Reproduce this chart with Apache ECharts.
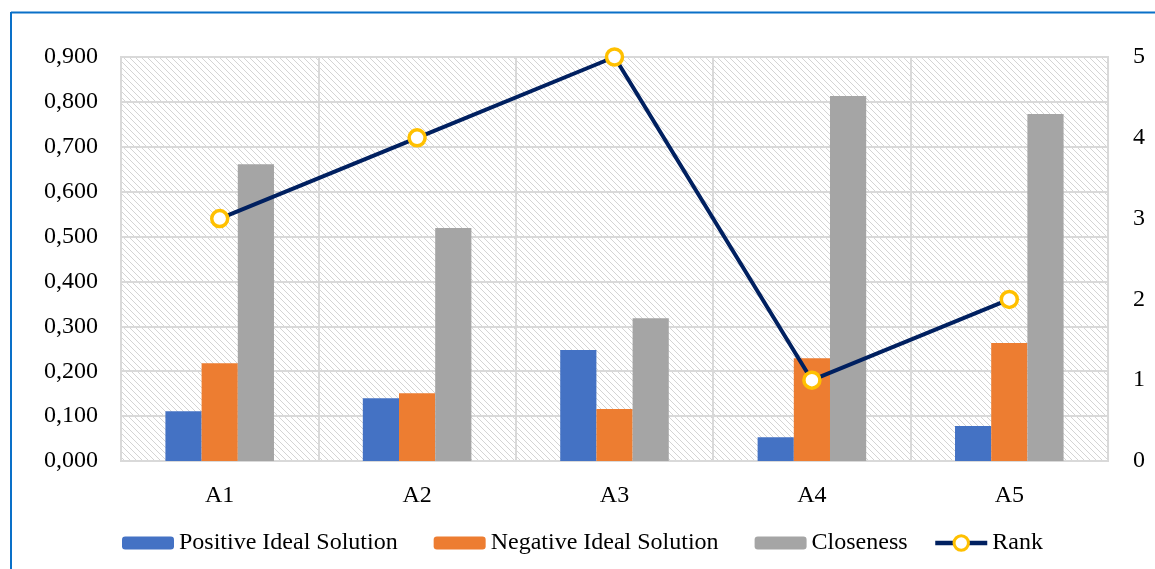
<!DOCTYPE html>
<html>
<head>
<meta charset="utf-8">
<script src="https://cdn.jsdelivr.net/npm/echarts@6/dist/echarts.min.js"></script>
<style>
  html, body { margin: 0; padding: 0; background: #fff; }
  #chart { width: 1155px; height: 569px; }
</style>
</head>
<body>
<div id="chart"></div>
<script>
// Alternatives and TOPSIS results
const categories = ['A1', 'A2', 'A3', 'A4', 'A5'];
const positiveIdeal = [0.111, 0.140, 0.247, 0.053, 0.078];
const negativeIdeal = [0.218, 0.151, 0.116, 0.229, 0.263];
const closeness = [0.661, 0.519, 0.318, 0.813, 0.773];
const rank = [3, 4, 5, 1, 2];

// Dithered downward-diagonal hatch used as the plot-area fill
function hatchPattern() {
  const n = 6;
  const c = document.createElement('canvas');
  c.width = n; c.height = n;
  const ctx = c.getContext('2d');
  const img = ctx.createImageData(n, n);
  for (let y = 0; y < n; y++) {
    for (let x = 0; x < n; x++) {
      const p = (y * n + x) * 4;
      const d = ((x - y) % n + n) % n;
      const on = (d === 0 || d === 1) && (x + y) % 2 === 0;
      const v = on ? 212 : 255;
      img.data[p] = v; img.data[p + 1] = v; img.data[p + 2] = v; img.data[p + 3] = 255;
    }
  }
  ctx.putImageData(img, 0, 0);
  return c;
}

const font = '"Liberation Serif", "Times New Roman", serif';
const gridColor = '#d9d9d9';
const fontSize = 24;
const legendText = { fontFamily: font, fontSize: 24, color: '#000' };

const chart = echarts.init(document.getElementById('chart'), null, { renderer: 'canvas' });
chart.setOption({
  animation: false,
  textStyle: { fontFamily: font },
  graphic: [
    { type: 'line', shape: { x1: 11, y1: 12.5, x2: 1155, y2: 12.5 }, style: { stroke: '#0a70c8', lineWidth: 2 } },
    { type: 'line', shape: { x1: 11, y1: 12, x2: 11, y2: 569 }, style: { stroke: '#0a70c8', lineWidth: 2 } }
  ],
  grid: {
    left: 121, right: 47, top: 57, bottom: 108,
    show: true,
    borderColor: gridColor,
    borderWidth: 2,
    backgroundColor: { image: hatchPattern(), repeat: 'repeat' }
  },
  legend: [
    {
      left: 117,
      top: 526,
      itemWidth: 52,
      itemHeight: 13,
      itemGap: 36,
      textStyle: legendText,
      data: ['Positive Ideal Solution', 'Negative Ideal Solution', 'Closeness']
    },
    {
      left: 928,
      top: 526,
      itemWidth: 52,
      itemHeight: 18,
      textStyle: legendText,
      data: [{
        name: 'Rank',
        lineStyle: { color: '#002060', width: 4.5 },
        itemStyle: { color: '#fff', borderColor: '#ffc000', borderWidth: 3 }
      }]
    }
  ],
  xAxis: {
    type: 'category',
    data: categories,
    axisLine: { show: true, lineStyle: { color: gridColor, width: 2 } },
    axisTick: { show: false },
    axisLabel: { fontFamily: font, fontSize: fontSize, color: '#000', margin: 23 },
    splitLine: { show: true, interval: 0, lineStyle: { color: gridColor, width: 2 } }
  },
  yAxis: [
    {
      type: 'value', min: 0, max: 0.9, interval: 0.1,
      axisLine: { show: false }, axisTick: { show: false },
      axisLabel: {
        fontFamily: font, fontSize: fontSize, color: '#000', margin: 23,
        formatter: v => v.toFixed(3).replace('.', ',')
      },
      splitLine: { show: true, lineStyle: { color: gridColor, width: 2 } }
    },
    {
      type: 'value', min: 0, max: 5, interval: 1,
      axisLine: { show: false }, axisTick: { show: false },
      axisLabel: { fontFamily: font, fontSize: fontSize, color: '#000', margin: 25 },
      splitLine: { show: false }
    }
  ],
  series: [
    {
      name: 'Positive Ideal Solution', type: 'bar', data: positiveIdeal,
      itemStyle: { color: '#4472c4' }, barGap: '0%', barCategoryGap: '45%'
    },
    {
      name: 'Negative Ideal Solution', type: 'bar', data: negativeIdeal,
      itemStyle: { color: '#ed7d31' }, barGap: '0%', barCategoryGap: '45%'
    },
    {
      name: 'Closeness', type: 'bar', data: closeness,
      itemStyle: { color: '#a5a5a5' }, barGap: '0%', barCategoryGap: '45%'
    },
    {
      name: 'Rank', type: 'line', yAxisIndex: 1, data: rank,
      lineStyle: { color: '#002060', width: 4 },
      symbol: 'circle', symbolSize: 16,
      itemStyle: { color: '#fff', borderColor: '#ffc000', borderWidth: 3.5 },
      z: 5
    }
  ]
});
</script>
</body>
</html>
